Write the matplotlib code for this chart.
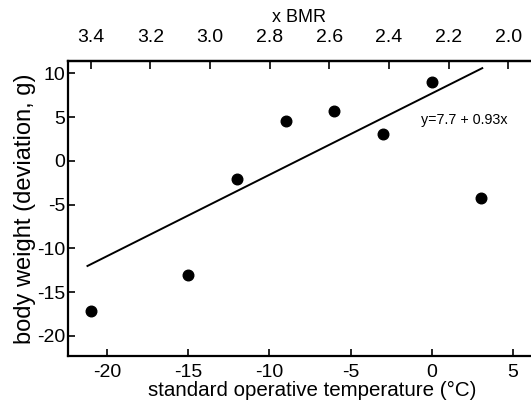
import matplotlib
matplotlib.use("Agg")
import matplotlib.pyplot as plt
import numpy as np

plt.rcParams['font.family'] = ['Liberation Sans', 'DejaVu Sans']
plt.rcParams['axes.unicode_minus'] = False

temps = [-21, -15, -12, -9, -6, -3, 0, 3]
weights = [-17.2, -13.1, -2.1, 4.6, 5.7, 3.1, 9.0, -4.2]
fit_intercept = 7.7
fit_slope = 0.93
fit_range = [-21.2, 3.1]
x_ticks = [-20, -15, -10, -5, 0, 5]
y_ticks = [-20, -15, -10, -5, 0, 5, 10]
bmr_ticks = [3.4, 3.2, 3.0, 2.8, 2.6, 2.4, 2.2, 2.0]

# BMR = a + b*T
bmr_a = 2.256
bmr_b = -0.0545

fig = plt.figure(figsize=(5.31, 4.08), dpi=100)
ax = fig.add_axes([0.128, 0.1275, 0.872, 0.723])

ax.scatter(temps, weights, s=58, color='black', zorder=3)
fx = np.array(fit_range)
ax.plot(fx, fit_intercept + fit_slope * fx, color='black', lw=1.4)
ax.text(-0.7, 4.7, 'y=7.7 + 0.93x', fontsize=10.3, va='center', ha='left')

ax.set_xlim(-22.4, 6.1)
ax.set_ylim(-22.3, 11.4)
ax.set_xticks(x_ticks)
ax.set_yticks(y_ticks)
ax.spines['right'].set_visible(False)
for s in ['left', 'bottom', 'top']:
    ax.spines[s].set_linewidth(1.6)
ax.tick_params(axis='x', direction='in', length=5, width=1.2, labelsize=14, pad=6)
ax.tick_params(axis='y', direction='in', length=5, width=1.2, labelsize=14, pad=2)
ax.set_xlabel('standard operative temperature (°C)', fontsize=14.8)
ax.xaxis.set_label_coords(0.527, -0.086)
ax.set_ylabel('body weight (deviation, g)', fontsize=17, labelpad=1)

sec = ax.secondary_xaxis('top', functions=(lambda t: bmr_a + bmr_b * t,
                                           lambda b: (b - bmr_a) / bmr_b))
sec.set_xticks(bmr_ticks)
sec.set_xticklabels([f'{v:.1f}' for v in bmr_ticks])
sec.tick_params(direction='in', length=6, width=1.2, color='black', labelsize=14, pad=11)
sec.set_xlabel('x BMR', fontsize=13, labelpad=5)
sec.spines['top'].set_linewidth(1.6)

fig.savefig('out.png', dpi=100)
